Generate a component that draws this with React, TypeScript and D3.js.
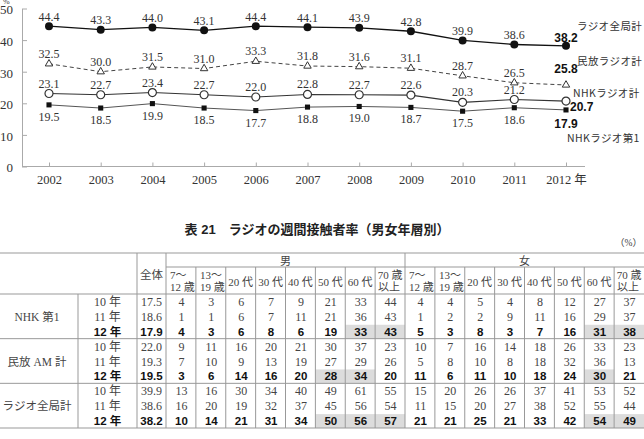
import React, { useRef, useEffect } from "react";
import * as d3 from "d3";

// line chart data
const years = [2002, 2003, 2004, 2005, 2006, 2007, 2008, 2009, 2010, 2011, 2012];
const allStations = [44.4, 43.3, 44.0, 43.1, 44.4, 44.1, 43.9, 42.8, 39.9, 38.6, 38.2];
const commercial = [32.5, 30.0, 31.5, 31.0, 33.3, 31.8, 31.6, 31.1, 28.7, 26.5, 25.8];
const nhkRadio = [23.1, 22.7, 23.4, 22.7, 22.0, 22.8, 22.7, 22.6, 20.3, 21.2, 20.7];
const nhkFirst = [19.5, 18.5, 19.9, 18.5, 17.7, 18.8, 19.0, 18.7, 17.5, 18.6, 17.9];
const seriesNames = ["ラジオ全局計", "民放ラジオ計", "NHKラジオ計", "NHKラジオ第1"];
const yTicks = [0, 10, 20, 30, 40, 50];

// table data
const tableTitle = "表 21　ラジオの週間接触者率（男女年層別）";
const sexLabels = ["男", "女"];
const ageLabels = [["7～", "12 歳"], ["13～", "19 歳"], ["20 代"], ["30 代"], ["40 代"], ["50 代"], ["60 代"], ["70 歳", "以上"]];
const groupLabels = ["NHK 第1", "民放 AM 計", "ラジオ全局計"];
const yearLabels = ["10 年", "11 年", "12 年"];
const nhkFirstTotal = ["17.5", "18.6", "17.9"];
const commercialAmTotal = ["22.0", "19.3", "19.5"];
const allStationsTotal = ["39.9", "38.6", "38.2"];
const nhkFirstRows = [
  [4, 3, 6, 7, 9, 21, 33, 44, 4, 4, 5, 4, 8, 12, 27, 37],
  [1, 1, 6, 7, 11, 21, 36, 43, 1, 2, 2, 9, 11, 16, 29, 37],
  [4, 3, 6, 8, 6, 19, 33, 43, 5, 3, 8, 3, 7, 16, 31, 38],
];
const commercialAmRows = [
  [9, 11, 16, 20, 21, 30, 37, 23, 10, 7, 16, 14, 18, 26, 33, 23],
  [7, 10, 9, 13, 19, 27, 29, 26, 5, 8, 10, 8, 18, 32, 36, 13],
  [3, 6, 14, 16, 20, 28, 34, 20, 11, 6, 11, 10, 18, 24, 30, 21],
];
const allStationsRows = [
  [13, 16, 30, 34, 40, 49, 61, 55, 15, 20, 26, 26, 37, 41, 53, 52],
  [16, 20, 19, 32, 37, 45, 56, 54, 11, 15, 20, 27, 38, 52, 55, 44],
  [10, 14, 21, 31, 34, 50, 56, 57, 21, 21, 25, 21, 33, 42, 54, 49],
];
// highlighted cells in the 12年 row (column index)
const nhkFirstShaded = [6, 7, 14, 15];
const commercialAmShaded = [5, 6, 14];
const allStationsShaded = [5, 6, 7, 14, 15];

const serif = "'Liberation Serif', 'Noto Sans CJK JP', serif";
const sans = "'Liberation Sans', Arial, 'Noto Sans CJK JP', sans-serif";
const jp = "'Noto Sans CJK JP', sans-serif";

const App = () => {
  const ref = useRef<SVGSVGElement>(null);

  useEffect(() => {
    const svg = d3.select(ref.current);
    svg.selectAll("*").remove();

    // ---------- line chart ----------
    const x = d3.scaleLinear().domain([2002, 2012]).range([49, 566]);
    const y = d3.scaleLinear().domain([0, 50]).range([166.5, 8.5]);
    const chart = svg.append("g");
    const axisColor = "#aaa";

    const yAxis = chart
      .append("g")
      .attr("transform", "translate(22,0)")
      .call(d3.axisLeft(y).tickValues(yTicks).tickSizeInner(-5).tickSizeOuter(0).tickPadding(9));
    yAxis.select(".domain").attr("stroke", axisColor);
    yAxis.selectAll(".tick line").attr("stroke", axisColor);
    yAxis
      .selectAll(".tick text")
      .attr("font-family", serif)
      .attr("font-size", 13)
      .attr("dy", "0.42em")
      .attr("fill", "#333");

    const xAxis = chart
      .append("g")
      .attr("transform", `translate(0,${y(0)})`)
      .call(
        d3
          .axisBottom(x)
          .tickValues(years)
          .tickSizeInner(-4)
          .tickSizeOuter(0)
          .tickPadding(9)
          .tickFormat((d) => (d === 2012 ? "2012 年" : String(d)))
      );
    xAxis.select(".domain").remove();
    xAxis.selectAll(".tick line").attr("stroke", axisColor);
    xAxis
      .selectAll(".tick text")
      .attr("font-family", serif)
      .attr("font-size", 12.5)
      .attr("fill", "#333");
    chart
      .append("line")
      .attr("x1", 22)
      .attr("x2", x(2012) + 19)
      .attr("y1", y(0))
      .attr("y2", y(0))
      .attr("stroke", axisColor);

    chart
      .append("text")
      .attr("x", 3)
      .attr("y", 4)
      .attr("font-family", serif)
      .attr("font-size", 8)
      .attr("fill", "#333")
      .text("%");

    const series = [
      { values: allStations, marker: "dot", stroke: "#111", width: 1.3, dash: null, labelDy: -5.5, lastDx: 0, lastDy: -4, lastAnchor: "middle", nameDx: 11, nameDy: -16 },
      { values: commercial, marker: "triangle", stroke: "#444", width: 1, dash: "4,3", labelDy: -6, lastDx: 0, lastDy: -11.5, lastAnchor: "middle", nameDx: 11, nameDy: -20 },
      { values: nhkRadio, marker: "circle", stroke: "#333", width: 1.1, dash: null, labelDy: -6, lastDx: 4, lastDy: 10, lastAnchor: "start", nameDx: 7, nameDy: -4.5 },
      { values: nhkFirst, marker: "square", stroke: "#555", width: 1, dash: null, labelDy: 16, lastDx: 0, lastDy: 18, lastAnchor: "middle", nameDx: 1, nameDy: 32 },
    ];

    series.forEach((s, si) => {
      const line = d3
        .line<number>()
        .x((_, i) => x(years[i]))
        .y((d) => y(d));
      chart
        .append("path")
        .datum(s.values)
        .attr("fill", "none")
        .attr("stroke", s.stroke)
        .attr("stroke-width", s.width)
        .attr("stroke-dasharray", s.dash)
        .attr("d", line);

      const pts = chart
        .append("g")
        .selectAll("g")
        .data(s.values)
        .join("g")
        .attr("transform", (d, i) => `translate(${x(years[i])},${y(d)})`);
      if (s.marker === "dot") {
        pts.append("circle").attr("r", 4).attr("fill", "#111");
      } else if (s.marker === "circle") {
        pts.append("circle").attr("r", 4).attr("fill", "#fff").attr("stroke", "#333").attr("stroke-width", 1.2);
      } else if (s.marker === "triangle") {
        pts
          .append("path")
          .attr("d", d3.symbol(d3.symbolTriangle, 24)())
          .attr("fill", "#fff")
          .attr("stroke", "#333")
          .attr("stroke-width", 1);
      } else {
        pts.append("path").attr("d", d3.symbol(d3.symbolSquare, 26)()).attr("fill", "#111");
      }

      const last = s.values.length - 1;
      chart
        .append("g")
        .selectAll("text")
        .data(s.values)
        .join("text")
        .attr("x", (d, i) => x(years[i]) + (i === last ? s.lastDx : 0))
        .attr("y", (d, i) => y(d) + (i === last ? s.lastDy : s.labelDy))
        .attr("text-anchor", (d, i) => (i === last ? s.lastAnchor : "middle"))
        .attr("font-family", (d, i) => (i === last ? sans : serif))
        .attr("font-weight", (d, i) => (i === last ? "bold" : "normal"))
        .attr("font-size", 12)
        .attr("fill", (d, i) => (i === last ? "#111" : "#333"))
        .text((d) => d.toFixed(1));

      chart
        .append("text")
        .attr("x", x(2012) + s.nameDx)
        .attr("y", y(s.values[last]) + s.nameDy)
        .attr("font-family", jp)
        .attr("font-size", 10.5)
        .attr("letter-spacing", 0.4)
        .attr("fill", "#333")
        .text(seriesNames[si]);
    });

    // ---------- table ----------
    const table = svg.append("g");
    const lineColor = "#999";
    const textColor = "#444";
    const top = 253;
    const headMid = 267;
    const headBottom = 294;
    const col = d3.scaleLinear().domain([0, 16]).range([166, 644]);
    const row = d3.scaleLinear().domain([0, 9]).range([headBottom, 428]);

    table
      .append("text")
      .attr("x", 317)
      .attr("y", 234)
      .attr("text-anchor", "middle")
      .attr("font-family", sans)
      .attr("font-weight", "bold")
      .attr("font-size", 13)
      .attr("fill", "#222")
      .text(tableTitle);
    table
      .append("text")
      .attr("x", 642)
      .attr("y", 246)
      .attr("text-anchor", "end")
      .attr("font-family", serif)
      .attr("font-size", 9.5)
      .attr("fill", textColor)
      .text("（%）");

    const groups = [
      { label: groupLabels[0], total: nhkFirstTotal, rows: nhkFirstRows, shaded: nhkFirstShaded },
      { label: groupLabels[1], total: commercialAmTotal, rows: commercialAmRows, shaded: commercialAmShaded },
      { label: groupLabels[2], total: allStationsTotal, rows: allStationsRows, shaded: allStationsShaded },
    ];

    // shading
    groups.forEach((g, gi) => {
      g.shaded.forEach((c) => {
        table
          .append("rect")
          .attr("x", col(c))
          .attr("y", row(gi * 3 + 2) + 1)
          .attr("width", col(c + 1) - col(c))
          .attr("height", row(gi * 3 + 3) - row(gi * 3 + 2) - 1)
          .attr("fill", "#dcdcdc");
      });
    });

    // horizontal rules
    const hLine = (x1: number, x2: number, yy: number) =>
      table.append("line").attr("x1", x1).attr("x2", x2).attr("y1", yy).attr("y2", yy).attr("stroke", lineColor);
    hLine(0, 644, top);
    hLine(col(0), 644, headMid);
    hLine(0, 644, headBottom);
    [3, 6, 9].forEach((r) => hLine(0, 644, row(r)));

    // vertical rules
    const vLine = (xx: number, y1: number, y2: number) =>
      table.append("line").attr("x1", xx).attr("x2", xx).attr("y1", y1).attr("y2", y2).attr("stroke", lineColor);
    vLine(78, headBottom, row(9));
    vLine(137, top, row(9));
    vLine(col(0), top, row(9));
    vLine(col(8), top, row(9));
    d3.range(1, 16)
      .filter((c) => c !== 8)
      .forEach((c) => vLine(col(c), headMid, row(9)));

    // header
    table
      .append("text")
      .attr("x", 151.5)
      .attr("y", 278.5)
      .attr("text-anchor", "middle")
      .attr("font-family", jp)
      .attr("font-size", 11.5)
      .attr("fill", textColor)
      .text("全体");
    sexLabels.forEach((s, si) => {
      table
        .append("text")
        .attr("x", (col(si * 8) + col(si * 8 + 8)) / 2)
        .attr("y", 265)
        .attr("text-anchor", "middle")
        .attr("font-family", jp)
        .attr("font-size", 11)
        .attr("fill", textColor)
        .text(s);
      ageLabels.forEach((a, ai) => {
        const c = si * 8 + ai;
        const cx = (col(c) + col(c + 1)) / 2;
        if (a.length === 1) {
          table
            .append("text")
            .attr("x", cx)
            .attr("y", 285.5)
            .attr("text-anchor", "middle")
            .attr("font-family", serif)
            .attr("font-size", 11)
            .attr("fill", textColor)
            .text(a[0]);
        } else {
          const rightAlignSecond = ai === 7;
          a.forEach((t, li) => {
            table
              .append("text")
              .attr("x", ai < 2 ? col(c) + 4 : rightAlignSecond && li === 1 ? col(c + 1) - 5 : cx)
              .attr("y", li === 0 ? 279 : 291)
              .attr("text-anchor", ai < 2 ? "start" : rightAlignSecond && li === 1 ? "end" : "middle")
              .attr("font-family", serif)
              .attr("font-size", 11)
              .attr("fill", textColor)
              .text(t);
          });
        }
      });
    });

    // body
    groups.forEach((g, gi) => {
      table
        .append("text")
        .attr("x", 37)
        .attr("y", (row(gi * 3) + row(gi * 3 + 3)) / 2 + 4.5)
        .attr("text-anchor", "middle")
        .attr("font-family", serif)
        .attr("font-size", 11.5)
        .attr("fill", textColor)
        .text(g.label);
      g.rows.forEach((vals, ri) => {
        const bold = ri === 2;
        const base = row(gi * 3 + ri) + 12;
        const cell = (cx: number, t: string) =>
          table
            .append("text")
            .attr("x", cx)
            .attr("y", base)
            .attr("text-anchor", "middle")
            .attr("font-family", bold ? sans : serif)
            .attr("font-weight", bold ? "bold" : "normal")
            .attr("font-size", bold ? 11.5 : 12)
            .attr("fill", bold ? "#111" : textColor)
            .text(t);
        cell(107.5, yearLabels[ri]);
        cell(151.5, g.total[ri]);
        vals.forEach((v, c) => cell((col(c) + col(c + 1)) / 2 + 0.5, String(v)));
      });
    });
  }, []);

  return (
    <svg
      ref={ref}
      width={644}
      height={439}
      style={{ position: "absolute", left: 0, top: 0, background: "#fff" }}
    />
  );
};

export default App;
